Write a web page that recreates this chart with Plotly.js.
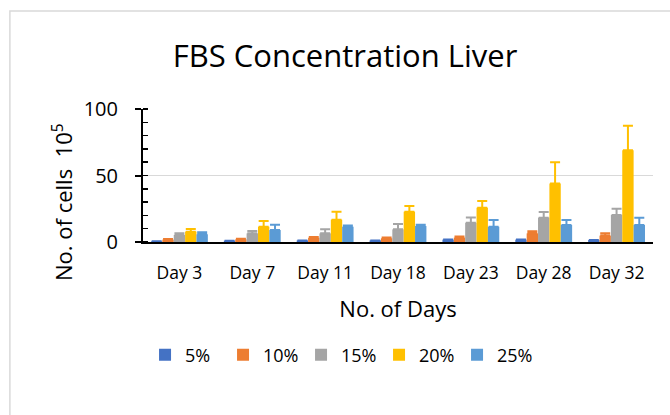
<!DOCTYPE html>
<html>
<head>
<meta charset="utf-8">
<script src="https://cdn.plot.ly/plotly-3.0.1.min.js"></script>
<style>html,body{margin:0;padding:0;background:#fff}#chart{width:670px;height:415px}</style>
</head>
<body>
<div id="chart"></div>
<script>
const days = ["Day 3", "Day 7", "Day 11", "Day 18", "Day 23", "Day 28", "Day 32"];
const seriesNames = ["5%", "10%", "15%", "20%", "25%"];
const v5  = [0.5, 1.0, 1.2, 1.2, 1.8, 1.8, 1.5];
const v10 = [1.8, 2.0, 3.2, 2.8, 3.3, 6.5, 4.8];
const v15 = [5.3, 6.5, 6.5, 9.5, 14.5, 18.3, 20.3];
const v20 = [7.8, 11.5, 16.8, 22.8, 25.8, 44.0, 69.0];
const v25 = [5.8, 9.0, 11.5, 12.0, 11.5, 12.8, 12.8];
const e5  = [0, 0, 0, 0, 0, 0, 0];
const e10 = [0.5, 0.5, 0.5, 0.5, 0.8, 1.5, 1.8];
const e15 = [1.2, 1.8, 3.0, 4.0, 4.0, 4.2, 4.7];
const e20 = [2.0, 4.3, 6.0, 4.2, 5.0, 16.0, 18.5];
const e25 = [1.5, 4.0, 1.0, 1.0, 5.0, 3.7, 5.5];
const colors = ["#4472C4", "#ED7D31", "#A5A5A5", "#FFC000", "#5B9BD5"];

const vals = [v5, v10, v15, v20, v25];
const errs = [e5, e10, e15, e20, e25];
const font = "Open Sans, sans-serif";

const data = seriesNames.map((n, i) => ({
  type: "bar",
  name: n,
  x: days,
  y: vals[i],
  marker: {color: colors[i]},
  error_y: {type: "data", array: errs[i], symmetric: false, arrayminus: errs[i].map(() => 0),
            color: colors[i], thickness: 2, width: 5, visible: true}
}));

const layout = {
  width: 670, height: 415,
  margin: {l: 143, r: 17, t: 109, b: 173},
  paper_bgcolor: "#fff", plot_bgcolor: "#fff",
  font: {family: font, color: "#000"},
  barmode: "group", bargap: 0.22, bargroupgap: 0,
  title: {text: "FBS Concentration Liver", font: {size: 31, color: "#000", family: font},
          x: 0.515, xref: "container", xanchor: "center", y: 0.865, yref: "container", yanchor: "middle"},
  xaxis: {
    showline: true, linecolor: "#000", linewidth: 2, ticks: "", showgrid: false,
    tickfont: {size: 17.5, color: "#000"}, ticklabelstandoff: 14,
    title: {text: "No. of Days", font: {size: 22, color: "#000"}, standoff: 19},
    automargin: false
  },
  yaxis: {
    range: [0, 100], dtick: 50, tick0: 0,
    showline: true, linecolor: "#000", linewidth: 2,
    ticks: "outside", ticklen: 6, tickwidth: 2, tickcolor: "#000",
    minor: {dtick: 10, ticks: "inside", ticklen: 5, tickwidth: 1.5, tickcolor: "#000", showgrid: false},
    showgrid: true, gridcolor: "#d9d9d9", gridwidth: 1.5, zeroline: false,
    tickfont: {size: 20, color: "#000"}, ticklabelstandoff: 13,
    automargin: false
  },
  annotations: [{text: "No. of cells  10<sup>5</sup>", textangle: -90, showarrow: false,
                 xref: "paper", yref: "paper", x: (62 - 143) / 510, y: (242 - 202) / 133,
                 xanchor: "center", yanchor: "middle", font: {size: 22, color: "#000", family: font}}],
  legend: {orientation: "h", x: 0.004, xanchor: "left", y: -0.85, yanchor: "middle",
           font: {size: 18, color: "#000"}, bgcolor: "rgba(0,0,0,0)",
           entrywidth: 33, entrywidthmode: "pixels", itemwidth: 30},
  shapes: [{type: "rect", xref: "paper", yref: "paper", x0: -0.261, x1: 1.2, y0: -3, y1: 1.737,
            line: {color: "#d9d9d9", width: 1.5}, fillcolor: "rgba(0,0,0,0)", layer: "below"}],
  showlegend: true
};

Plotly.newPlot("chart", data, layout, {displayModeBar: false, staticPlot: true});
</script>
</body>
</html>
